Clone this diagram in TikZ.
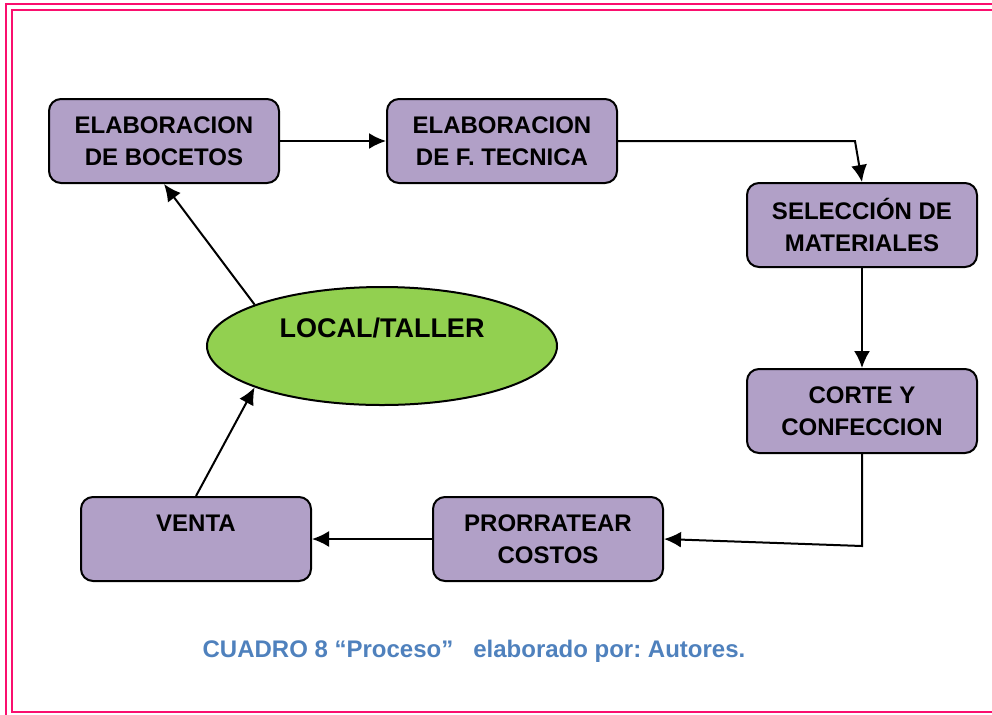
\documentclass[tikz,border=0pt]{standalone}
\usepackage{fontspec}
\setmainfont{Liberation Sans}
\frenchspacing
\usetikzlibrary{shapes.geometric,arrows.meta}
\definecolor{rosa}{RGB}{250,15,110}
\definecolor{lila}{RGB}{177,160,199}
\definecolor{verde}{RGB}{146,208,80}
\definecolor{azul}{RGB}{79,129,189}
\tikzset{
  texto/.style={font=\bfseries\fontsize{12}{16}\selectfont,align=center},
  caja/.style={texto,draw,fill=lila,rounded corners=6pt,line width=1pt,minimum width=115pt,minimum height=42pt,inner sep=0pt},
  flecha/.style={->,>={Latex[length=8.5pt,width=8pt]},line width=1pt}
}
\begin{document}
\begin{tikzpicture}[x=0.5pt,y=-0.5pt]
\clip(0,0) rectangle (992,714);
%marco doble
\draw[rosa,line width=1.4pt](6,4) rectangle (1010,730);
\draw[rosa,line width=1.4pt](12,10) rectangle (1000,712);
\node[caja](boc) at(164,141) {ELABORACION\\DE BOCETOS};
\node[caja](fte) at(502,141) {ELABORACION\\DE F. TECNICA};
\node[caja](sel) at(862,225) {SELECCIÓN DE\\MATERIALES};
\node[caja](cor) at(862,411) {CORTE Y\\CONFECCION};
\node[caja](pro) at(548,539) {PRORRATEAR\\COSTOS};
\node[caja](ven) at(196,539) {VENTA\\\mbox{}};
\node[texto,font=\bfseries\fontsize{13.5}{18}\selectfont,draw,ellipse,fill=verde,line width=1pt,minimum width=175pt,minimum height=59pt,inner sep=0pt](loc) at(382,346) {LOCAL/TALLER\\\mbox{}};
\coordinate (c1) at(855,141);
\coordinate (c2) at(862,546);
\draw[flecha](boc)--(fte);
\draw[flecha](fte.east)--(c1)--(sel.north);
\draw[flecha](sel)--(cor);
\draw[flecha](cor.south)--(c2)--(pro.east);
\draw[flecha](pro)--(ven);
\draw[flecha](ven.north)--(loc.198);
\draw[flecha](loc.162)--(boc.south);
\node[texto,text=azul](cap) at(474,651) {CUADRO 8 “Proceso”\ \ \ elaborado por: Autores.};
\end{tikzpicture}
\end{document}
